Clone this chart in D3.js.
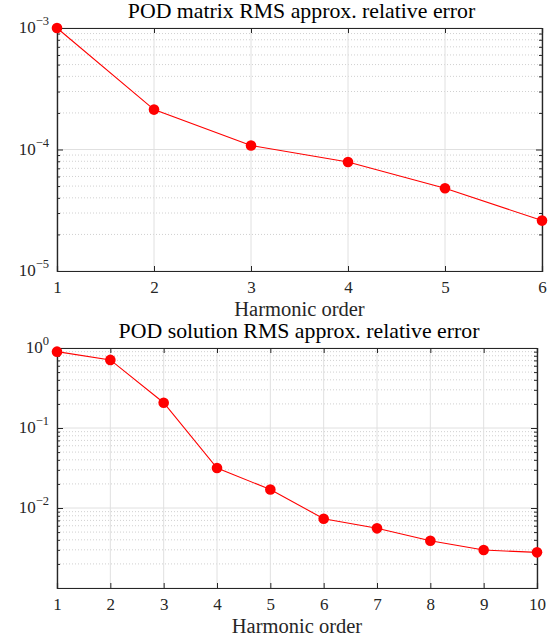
<html>
<head>
<script src="https://d3js.org/d3.v7.min.js"></script>
<style>
  body { margin: 0; background: #fff; }
  svg text { font-family: "Liberation Serif", "DejaVu Serif", serif; fill: #262626; }
  .title { font-size: 21.8px; fill: #000; }
  .lab { font-size: 20.5px; }
</style>
</head>
<body>
<script>
// top panel: POD matrix error
var orderA = [1, 2, 3, 4, 5, 6];
var errA = [1.0e-3, 2.13e-4, 1.08e-4, 7.9e-5, 4.8e-5, 2.6e-5];
// bottom panel: POD solution error
var orderB = [1, 2, 3, 4, 5, 6, 7, 8, 9, 10];
var errB = [0.90, 0.71, 0.207, 0.0316, 0.017, 0.00735, 0.00557, 0.00389, 0.00298, 0.00279];

var svg = d3.select("body").append("svg")
    .attr("width", 559).attr("height", 643);

function panel(cfg) {
  var x = d3.scaleLinear().domain(cfg.xdom).range([cfg.left, cfg.right]);
  var y = d3.scaleLog().domain(cfg.ydom).range([cfg.bottom, cfg.top]);
  var g = svg.append("g");
  var lo = Math.log10(cfg.ydom[0]), hi = Math.log10(cfg.ydom[1]);
  var majors = d3.range(lo, hi + 1).map(function(e) { return Math.pow(10, e); });
  var minors = [];
  majors.slice(0, -1).forEach(function(m) {
    for (var k = 2; k <= 9; k++) minors.push(m * k);
  });
  var xt = d3.range(cfg.xdom[0], cfg.xdom[1] + 1);

  // grid
  g.selectAll(".ming").data(minors).enter().append("line")
    .attr("x1", cfg.left).attr("x2", cfg.right)
    .attr("y1", function(d) { return y(d); }).attr("y2", function(d) { return y(d); })
    .attr("stroke", "#d0d0d0").attr("stroke-width", 1).attr("stroke-dasharray", "1,2");
  g.selectAll(".majg").data(majors).enter().append("line")
    .attr("x1", cfg.left).attr("x2", cfg.right)
    .attr("y1", function(d) { return y(d); }).attr("y2", function(d) { return y(d); })
    .attr("stroke", "#e0e0e0").attr("stroke-width", 1);
  g.selectAll(".xg").data(xt).enter().append("line")
    .attr("x1", function(d) { return x(d); }).attr("x2", function(d) { return x(d); })
    .attr("y1", cfg.top).attr("y2", cfg.bottom)
    .attr("stroke", "#e0e0e0").attr("stroke-width", 1);

  // axes with inward ticks
  var ax = d3.axisBottom(x).tickValues(xt).tickSize(-5).tickPadding(10).tickFormat(d3.format("d"));
  var axTop = d3.axisTop(x).tickValues(xt).tickSize(-5).tickFormat("");
  var ay = d3.axisLeft(y).tickValues(majors).tickSize(-6).tickFormat("");
  var ayR = d3.axisRight(y).tickValues(majors).tickSize(-6).tickFormat("");
  var ayMin = d3.axisLeft(y).tickValues(minors).tickSize(-3).tickFormat("");
  var ayMinR = d3.axisRight(y).tickValues(minors).tickSize(-3).tickFormat("");

  function style(sel) {
    sel.attr("font-family", null).attr("font-size", 17);
    sel.select(".domain").attr("stroke", "#262626").attr("stroke-width", 1.2);
    sel.selectAll(".tick line").attr("stroke", "#262626");
    sel.selectAll(".tick text").attr("fill", "#262626");
  }
  g.append("g").attr("transform", "translate(0," + cfg.bottom + ")").call(ax).call(style);
  g.append("g").attr("transform", "translate(0," + cfg.top + ")").call(axTop).call(style);
  g.append("g").attr("transform", "translate(" + cfg.left + ",0)").call(ay).call(style);
  g.append("g").attr("transform", "translate(" + cfg.right + ",0)").call(ayR).call(style);
  g.append("g").attr("transform", "translate(" + cfg.left + ",0)").call(ayMin).call(style);
  g.append("g").attr("transform", "translate(" + cfg.right + ",0)").call(ayMinR).call(style);

  // y tick labels 10^n
  var yl = g.selectAll(".ylab").data(cfg.ylabs).enter().append("text")
    .attr("x", cfg.left - 8).attr("y", function(d) { return y(d) + 5; })
    .attr("text-anchor", "end").style("font-size", "17px");
  yl.append("tspan").text("10");
  yl.append("tspan").attr("dy", -8).style("font-size", "12.5px")
    .text(function(d) { var e = Math.round(Math.log10(d)); return e < 0 ? "\u2212" + (-e) : e; });

  // line + markers
  var line = d3.line().x(function(d) { return x(d[0]); }).y(function(d) { return y(d[1]); });
  var pts = cfg.xs.map(function(v, i) { return [v, cfg.ys[i]]; });
  g.append("path").datum(pts).attr("d", line)
    .attr("fill", "none").attr("stroke", "#ff0000").attr("stroke-width", 1.1);
  g.selectAll(".pt").data(pts).enter().append("circle")
    .attr("cx", function(d) { return x(d[0]); }).attr("cy", function(d) { return y(d[1]); })
    .attr("r", 5.3).attr("fill", "#ff0000");

  g.append("text").attr("class", "title")
    .attr("x", (cfg.left + cfg.right) / 2 + 2).attr("y", cfg.top - 10)
    .attr("text-anchor", "middle").text(cfg.title);
  g.append("text").attr("class", "lab")
    .attr("x", (cfg.left + cfg.right) / 2).attr("y", cfg.bottom + 45)
    .attr("text-anchor", "middle").text("Harmonic order");
}

panel({ xs: orderA, ys: errA, xdom: [1, 6], ydom: [1e-5, 1e-3], ylabs: [1e-5, 1e-4, 1e-3],
  left: 57, right: 542, top: 28, bottom: 271,
  title: "POD matrix RMS approx. relative error" });
panel({ xs: orderB, ys: errB, xdom: [1, 10], ydom: [1e-3, 1], ylabs: [1e-2, 1e-1, 1],
  left: 57, right: 537, top: 348, bottom: 588,
  title: "POD solution RMS approx. relative error" });
</script>
</body>
</html>
